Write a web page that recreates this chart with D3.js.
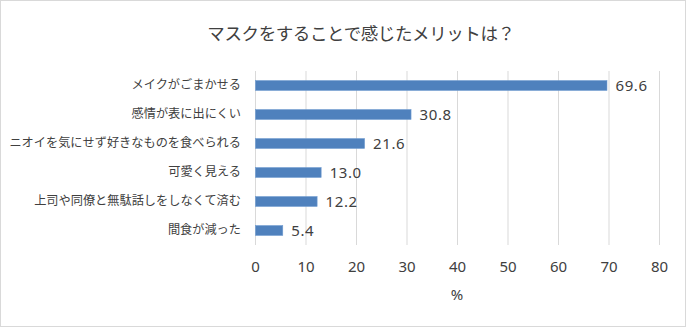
<!DOCTYPE html>
<html><head><meta charset="utf-8">
<script src="https://cdn.jsdelivr.net/npm/d3@7"></script>
<style>
html,body{margin:0;padding:0;background:#fff;}
svg text{font-family:"Noto Sans CJK JP","Noto Sans",sans-serif;fill:#404040;}
svg text.num{font-family:"Noto Sans",sans-serif;}
</style></head>
<body><svg id="chart" width="686" height="327"></svg>
<script>
const categories = ["メイクがごまかせる","感情が表に出にくい","ニオイを気にせず好きなものを食べられる","可愛く見える","上司や同僚と無駄話しをしなくて済む","間食が減った"];
const values = [69.6, 30.8, 21.6, 13.0, 12.2, 5.4];
const xTicks = [0,10,20,30,40,50,60,70,80];
const title = "マスクをすることで感じたメリットは？";
const xLabel = "%";

const svg = d3.select("#chart");
const W = 686, H = 327;
svg.append("rect").attr("x",0.5).attr("y",0.5).attr("width",W-1).attr("height",H-1)
  .attr("fill","#fff").attr("stroke","#d9d9d9");

const m = {left:255, right:659, top:71, bottom:245};
const x = d3.scaleLinear().domain([0,80]).range([m.left,m.right]);
const y = d3.scaleBand().domain(categories).range([m.top,m.bottom]).paddingInner(0.66).paddingOuter(0.33);

svg.append("text").attr("x",361).attr("y",40).attr("text-anchor","middle")
  .attr("font-size",17.5).attr("letter-spacing","-0.4px").text(title);

// vertical gridlines
svg.append("g").selectAll("line").data(xTicks).join("line")
  .attr("x1",d=>x(d)+0.5).attr("x2",d=>x(d)+0.5)
  .attr("y1",m.top).attr("y2",m.bottom)
  .attr("stroke","#d9d9d9").attr("stroke-width",1);

// x axis tick labels
const xAxis = d3.axisBottom(x).tickValues(xTicks).tickSize(0).tickPadding(0);
const gx = svg.append("g").attr("transform",`translate(0,${m.bottom})`).call(xAxis);
gx.select(".domain").remove();
gx.selectAll("text").attr("class","num").attr("font-size",15).attr("dy",null).attr("y",26.5)
  .attr("fill","#404040");

svg.append("text").attr("class","num").attr("x",x(40)).attr("y",300).attr("text-anchor","middle")
  .attr("font-size",15).text(xLabel);

// category labels
const yAxis = d3.axisLeft(y).tickSize(0).tickPadding(14);
const gy = svg.append("g").attr("transform",`translate(${m.left},0)`).call(yAxis);
gy.select(".domain").remove();
gy.selectAll("text").attr("font-size",12.2)
  .style("font-family",'"Noto Sans CJK JP","Noto Sans",sans-serif').attr("fill","#404040");

// bars
const data = categories.map((c,i)=>({c, v:values[i]}));
svg.append("g").selectAll("rect").data(data).join("rect")
  .attr("x",x(0)+0.5).attr("y",d=>y(d.c))
  .attr("width",d=>x(d.v)-x(0)).attr("height",y.bandwidth())
  .attr("fill","#4f81bd").attr("stroke","#6f9bd0").attr("stroke-width",0.6);

// value labels
svg.append("g").selectAll("text").data(data).join("text")
  .attr("class","num")
  .attr("x",d=>x(d.v)+9).attr("y",d=>y(d.c)+y.bandwidth()/2)
  .attr("dy","0.36em").attr("font-size",15)
  .attr("letter-spacing","0.6px")
  .text(d=>d.v.toFixed(1));
</script></body></html>
